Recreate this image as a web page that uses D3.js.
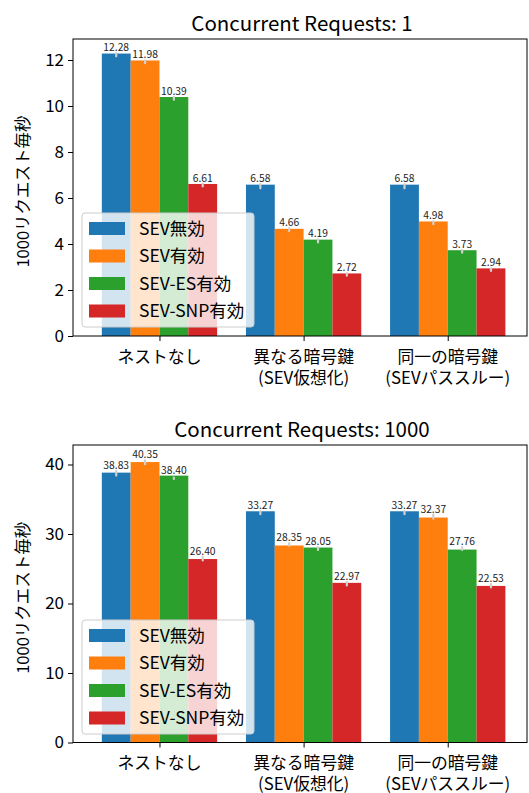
<!DOCTYPE html>
<html><head><meta charset="utf-8">
<script src="https://cdn.jsdelivr.net/npm/d3@7"></script>
<style>body{margin:0;background:#fff}svg{display:block}text{font-family:"Noto Sans CJK JP","Noto Sans",sans-serif}</style>
</head><body><svg id="c" width="529" height="793"></svg>
<script>
const categories = [["ネストなし"], ["異なる暗号鍵", "(SEV仮想化)"], ["同一の暗号鍵", "(SEVパススルー)"]];
const seriesNames = ["SEV無効", "SEV有効", "SEV-ES有効", "SEV-SNP有効"];
const colors = ["#1f77b4", "#ff7f0e", "#2ca02c", "#d62728"];

// Concurrent Requests: 1
const c1Values = [
  [12.28, 6.58, 6.58],
  [11.98, 4.66, 4.98],
  [10.39, 4.19, 3.73],
  [6.61, 2.72, 2.94]
];
const c1ErrLo = [
  [12.16, 6.42, 6.42],
  [11.86, 4.56, 4.86],
  [10.27, 4.07, 3.62],
  [6.50, 2.62, 2.83]
];
const c1ErrHi = [
  [12.30, 6.60, 6.60],
  [11.99, 4.68, 4.99],
  [10.40, 4.20, 3.74],
  [6.62, 2.73, 2.95]
];
// Concurrent Requests: 1000
const c1000Values = [
  [38.83, 33.27, 33.27],
  [40.35, 28.35, 32.37],
  [38.40, 28.05, 27.76],
  [26.40, 22.97, 22.53]
];
const c1000ErrLo = [
  [38.40, 32.85, 32.85],
  [40.05, 28.30, 32.20],
  [37.90, 27.70, 27.70],
  [26.20, 22.60, 22.30]
];
const c1000ErrHi = [
  [39.10, 33.30, 33.30],
  [40.60, 28.70, 32.80],
  [38.10, 28.10, 28.10],
  [26.70, 23.10, 22.80]
];
const c1Ticks = [0, 2, 4, 6, 8, 10, 12];
const c1000Ticks = [0, 10, 20, 30, 40];

const svg = d3.select("#c");

function panel(opt) {
  const g = svg.append("g");
  const L = 73, R = 527;
  const x = d3.scaleLinear().domain([-0.6, 2.55]).range([L, R]);
  const y = d3.scaleLinear().domain([0, opt.ymax]).range([opt.bottom, opt.top]);
  const bw = 0.2;
  const offs = [-0.3, -0.1, 0.1, 0.3];

  // bars
  opt.values.forEach((vals, s) => {
    vals.forEach((v, i) => {
      const cx = i + offs[s];
      g.append("rect")
        .attr("x", x(cx - bw / 2)).attr("width", x(cx + bw / 2) - x(cx - bw / 2))
        .attr("y", y(v)).attr("height", y(0) - y(v))
        .attr("fill", colors[s]);
    });
  });
  // error bars
  opt.values.forEach((vals, s) => {
    vals.forEach((v, i) => {
      const cx = x(i + offs[s]);
      g.append("line").attr("x1", cx).attr("x2", cx)
        .attr("y1", y(opt.lo[s][i])).attr("y2", y(opt.hi[s][i]))
        .attr("stroke", "#d0d0d0").attr("stroke-width", 2.2).attr("stroke-linecap", "round");
    });
  });
  // value labels
  opt.values.forEach((vals, s) => {
    vals.forEach((v, i) => {
      const top = Math.min(y(v), y(opt.hi[s][i]));
      g.append("text").attr("x", x(i + offs[s])).attr("y", top - 2)
        .attr("text-anchor", "middle").attr("font-size", 10.3).attr("fill", "#222")
        .text(v.toFixed(2));
    });
  });

  // frame
  g.append("rect").attr("x", L).attr("y", opt.top).attr("width", R - L).attr("height", opt.bottom - opt.top)
    .attr("fill", "none").attr("stroke", "#000").attr("stroke-width", 1);

  // y axis
  const ya = d3.axisLeft(y).tickValues(opt.ticks).tickSize(5).tickPadding(4).tickFormat(d3.format("d"));
  const yg = g.append("g").attr("transform", `translate(${L},0)`).call(ya);
  yg.select(".domain").remove();
  yg.selectAll("text").attr("font-size", 17).attr("fill", "#000").style("font-family", '"Noto Sans CJK JP"');
  yg.selectAll("line").attr("stroke", "#000");

  // x axis
  const xa = d3.axisBottom(x).tickValues([0, 1, 2]).tickSize(5).tickFormat("");
  const xg = g.append("g").attr("transform", `translate(0,${opt.bottom})`).call(xa);
  xg.select(".domain").remove();
  xg.selectAll("line").attr("stroke", "#000");
  categories.forEach((lines, i) => {
    lines.forEach((t, k) => {
      g.append("text").attr("x", x(i)).attr("y", opt.bottom + 26.5 + k * 21)
        .attr("text-anchor", "middle").attr("font-size", 16.8).attr("fill", "#000").text(t);
    });
  });

  // title
  g.append("text").attr("x", (L + R) / 2 + 2).attr("y", opt.top - 8)
    .attr("text-anchor", "middle").attr("font-size", 20.5).attr("fill", "#000").text(opt.title);

  // y label
  g.append("text").attr("transform", `translate(29,${(opt.top + opt.bottom) / 2 + 4}) rotate(-90)`)
    .attr("text-anchor", "middle").attr("font-size", 16.5).attr("fill", "#000").text("1000リクエスト毎秒");

  // legend
  const lx = 82, ly = opt.legendTop, lw = 172, lh = 114;
  g.append("rect").attr("x", lx).attr("y", ly).attr("width", lw).attr("height", lh)
    .attr("rx", 3).attr("fill", "#fff").attr("fill-opacity", 0.8)
    .attr("stroke", "#cccccc").attr("stroke-width", 1);
  seriesNames.forEach((n, s) => {
    const cy = ly + 15.5 + s * 27.5;
    g.append("rect").attr("x", 89).attr("y", cy - 6.5).attr("width", 36).attr("height", 13).attr("fill", colors[s]);
    g.append("text").attr("x", 139).attr("y", cy + 6).attr("font-size", 17.5).attr("fill", "#000").text(n);
  });
}

panel({title: "Concurrent Requests: 1", top: 39, bottom: 336, ymax: (336 - 39) / 23,
  values: c1Values, lo: c1ErrLo, hi: c1ErrHi, ticks: c1Ticks, legendTop: 213});
panel({title: "Concurrent Requests: 1000", top: 445, bottom: 742.5, ymax: (742.5 - 445) / 6.95,
  values: c1000Values, lo: c1000ErrLo, hi: c1000ErrHi, ticks: c1000Ticks, legendTop: 620});
</script></body></html>
